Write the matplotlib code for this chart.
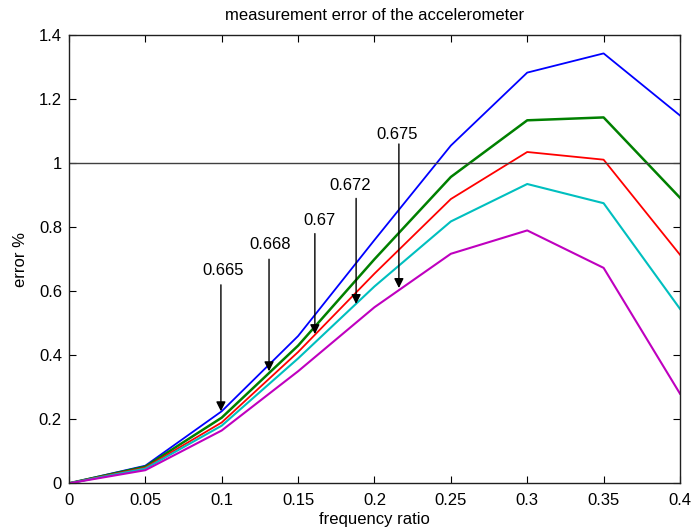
import matplotlib
matplotlib.use("Agg")
import matplotlib.pyplot as plt

plt.rcParams['font.family'] = ['Liberation Sans', 'DejaVu Sans']

freq = [0, 0.05, 0.1, 0.15, 0.2, 0.25, 0.3, 0.35, 0.4]
err_blue = [0, 0.055, 0.225, 0.46, 0.76, 1.055, 1.283, 1.343, 1.149]
err_green = [0, 0.052, 0.205, 0.43, 0.70, 0.957, 1.134, 1.143, 0.892]
err_red = [0, 0.049, 0.19, 0.41, 0.655, 0.888, 1.035, 1.011, 0.714]
err_cyan = [0, 0.046, 0.18, 0.39, 0.615, 0.818, 0.935, 0.875, 0.545]
err_magenta = [0, 0.041, 0.165, 0.35, 0.55, 0.717, 0.79, 0.673, 0.28]

series = [
    (err_blue, '#0000ff', 1.3),
    (err_green, '#008000', 1.8),
    (err_red, '#ff0000', 1.3),
    (err_cyan, '#00bfbf', 1.5),
    (err_magenta, '#bf00bf', 1.5),
]

labels = ['0.665', '0.668', '0.67', '0.672', '0.675']
arrow_x = [0.0995, 0.131, 0.161, 0.188, 0.216]
arrow_tip = [0.225, 0.35, 0.466, 0.56, 0.61]
arrow_start = [0.62, 0.70, 0.78, 0.89, 1.06]
text_x = [0.101, 0.132, 0.164, 0.184, 0.215]
text_y = [0.666, 0.747, 0.82, 0.93, 1.09]

fig = plt.figure(figsize=(6.96, 5.31), dpi=100)
ax = fig.add_axes([0.099, 0.0898, 0.878, 0.844])

for vals, c, lw in series:
    ax.plot(freq, vals, color=c, lw=lw)

ax.axhline(1, color='#404040', lw=1.0)

for lab, ax_, tip, st, tx, ty in zip(labels, arrow_x, arrow_tip, arrow_start, text_x, text_y):
    ax.annotate('', xy=(ax_, tip), xytext=(ax_, st),
                arrowprops=dict(arrowstyle='-|>', color='black', lw=1.0,
                                mutation_scale=14, shrinkA=0, shrinkB=0))
    ax.text(tx, ty, lab, ha='center', va='center', fontsize=12)

ax.set_xlim(0, 0.4)
ax.set_ylim(0, 1.4)
ax.set_xticks([0, 0.05, 0.1, 0.15, 0.2, 0.25, 0.3, 0.35, 0.4])
ax.set_xticklabels(['0', '0.05', '0.1', '0.15', '0.2', '0.25', '0.3', '0.35', '0.4'])
ax.set_yticks([0, 0.2, 0.4, 0.6, 0.8, 1.0, 1.2, 1.4])
ax.set_yticklabels(['0', '0.2', '0.4', '0.6', '0.8', '1', '1.2', '1.4'])
ax.tick_params(direction='in', top=True, right=True, labelsize=12, length=5, width=0.8)
ax.tick_params(axis='x', pad=7)
ax.tick_params(axis='y', pad=5)
for s in ax.spines.values():
    s.set_linewidth(1.0)
    s.set_color('#202020')

ax.set_xlabel('frequency ratio', fontsize=12, labelpad=3)
ax.set_ylabel('error %', fontsize=12, labelpad=8)
ax.set_title('measurement error of the accelerometer', fontsize=12, pad=11)

fig.savefig('out.png', dpi=100)
